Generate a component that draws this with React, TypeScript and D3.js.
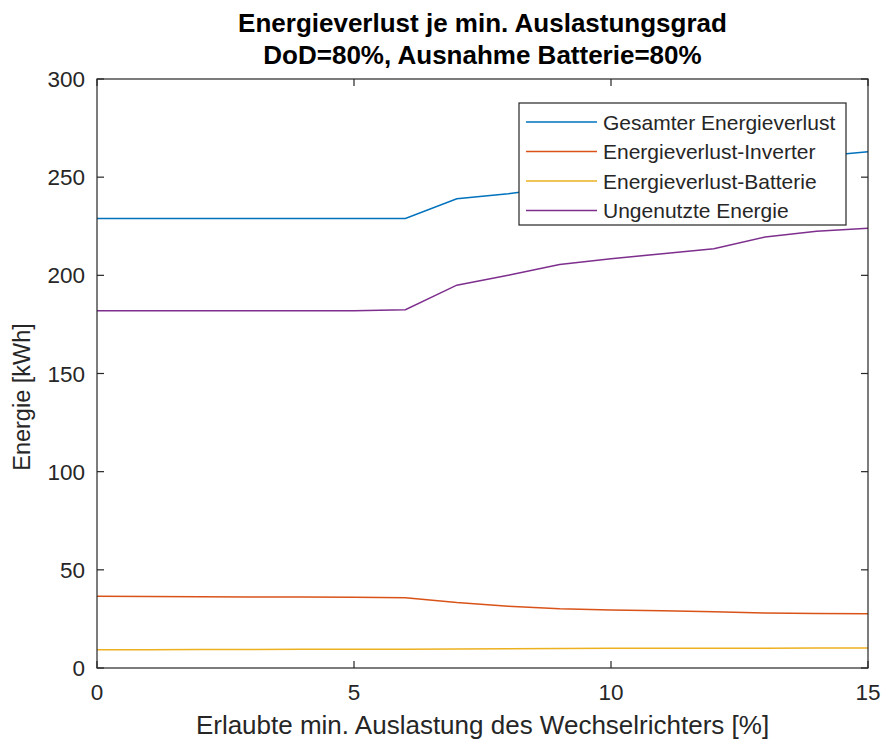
import React from "react";
import * as d3 from "d3";

const xValues = [0, 1, 2, 3, 4, 5, 6, 7, 8, 9, 10, 11, 12, 13, 14, 15];
const gesamt = [229, 229, 229, 229, 229, 229, 229, 239, 241.5, 245, 248, 250, 252.5, 257.5, 260.5, 263];
const inverter = [36.5, 36.4, 36.3, 36.2, 36.1, 36, 35.8, 33.3, 31.5, 30.2, 29.5, 29.2, 28.7, 28, 27.8, 27.6];
const batterie = [9.3, 9.3, 9.4, 9.4, 9.5, 9.5, 9.6, 9.7, 9.8, 9.9, 10, 10, 10.1, 10.1, 10.2, 10.2];
const ungenutzt = [182, 182, 182, 182, 182, 182, 182.5, 195, 200, 205.5, 208.5, 211, 213.5, 219.5, 222.5, 224];

const seriesNames = ["Gesamter Energieverlust", "Energieverlust-Inverter", "Energieverlust-Batterie", "Ungenutzte Energie"];
const seriesColors = ["#0072BD", "#D95319", "#EDB120", "#7E2F8E"];
const xTicks = [0, 5, 10, 15];
const yTicks = [0, 50, 100, 150, 200, 250, 300];
const titleLines = ["Energieverlust je min. Auslastungsgrad", "DoD=80%, Ausnahme Batterie=80%"];
const xLabel = "Erlaubte min. Auslastung des Wechselrichters [%]";
const yLabel = "Energie [kWh]";

const W = 884, H = 745;
const L = 97, R = 868, T = 79, B = 668;
const FONT = "'Liberation Sans', Arial, Helvetica, sans-serif";
const AX = "#262626";

export default function App() {
  const x = d3.scaleLinear().domain([0, 15]).range([L, R]);
  const y = d3.scaleLinear().domain([0, 300]).range([B, T]);
  const allSeries = [gesamt, inverter, batterie, ungenutzt];
  const line = d3.line<number>().x((_, i) => x(xValues[i])).y((d) => y(d));
  const tickLen = 7;
  const tickFs = 22.5;
  const legFs = 21;

  const legX = 519, legY = 103, legW = 327, legH = 122;
  const rowH = 29.5;

  return (
    <svg width={W} height={H} style={{ position: "absolute", left: 0, top: 0, background: "#fff" }}>
      <rect x={0} y={0} width={W} height={H} fill="#fff" />
      {allSeries.map((s, k) => (
        <path key={k} d={line(s) || ""} fill="none" stroke={seriesColors[k]} strokeWidth={1.5} />
      ))}
      <rect x={L} y={T} width={R - L} height={B - T} fill="none" stroke={AX} strokeWidth={1.2} />
      {xTicks.map((t) => (
        <g key={"x" + t}>
          <line x1={x(t)} x2={x(t)} y1={B} y2={B - tickLen} stroke={AX} strokeWidth={1.2} />
          <line x1={x(t)} x2={x(t)} y1={T} y2={T + tickLen} stroke={AX} strokeWidth={1.2} />
          <text x={x(t)} y={B + 32} textAnchor="middle" fontFamily={FONT} fontSize={tickFs} fill={AX}>{t}</text>
        </g>
      ))}
      {yTicks.map((t) => (
        <g key={"y" + t}>
          <line x1={L} x2={L + tickLen} y1={y(t)} y2={y(t)} stroke={AX} strokeWidth={1.2} />
          <line x1={R} x2={R - tickLen} y1={y(t)} y2={y(t)} stroke={AX} strokeWidth={1.2} />
          <text x={L - 12} y={y(t) + 8} textAnchor="end" fontFamily={FONT} fontSize={tickFs} fill={AX}>{t}</text>
        </g>
      ))}
      {titleLines.map((tl, i) => (
        <text key={i} x={(L + R) / 2} y={32 + i * 32} textAnchor="middle" fontFamily={FONT} fontSize={26} fontWeight="bold" fill="#000">{tl}</text>
      ))}
      <text x={(L + R) / 2} y={734} textAnchor="middle" fontFamily={FONT} fontSize={26} fill={AX}>{xLabel}</text>
      <text transform={`translate(30, 397) rotate(-90)`} textAnchor="middle" fontFamily={FONT} fontSize={23.5} fill={AX}>{yLabel}</text>
      <rect x={legX} y={legY} width={legW} height={legH} fill="#fff" stroke={AX} strokeWidth={1.2} />
      {seriesNames.map((n, k) => {
        const cy = legY + 19 + k * rowH;
        return (
          <g key={n}>
            <line x1={526} x2={597} y1={cy} y2={cy} stroke={seriesColors[k]} strokeWidth={1.5} />
            <text x={603} y={cy + 7.5} fontFamily={FONT} fontSize={legFs} fill={AX}>{n}</text>
          </g>
        );
      })}
    </svg>
  );
}
